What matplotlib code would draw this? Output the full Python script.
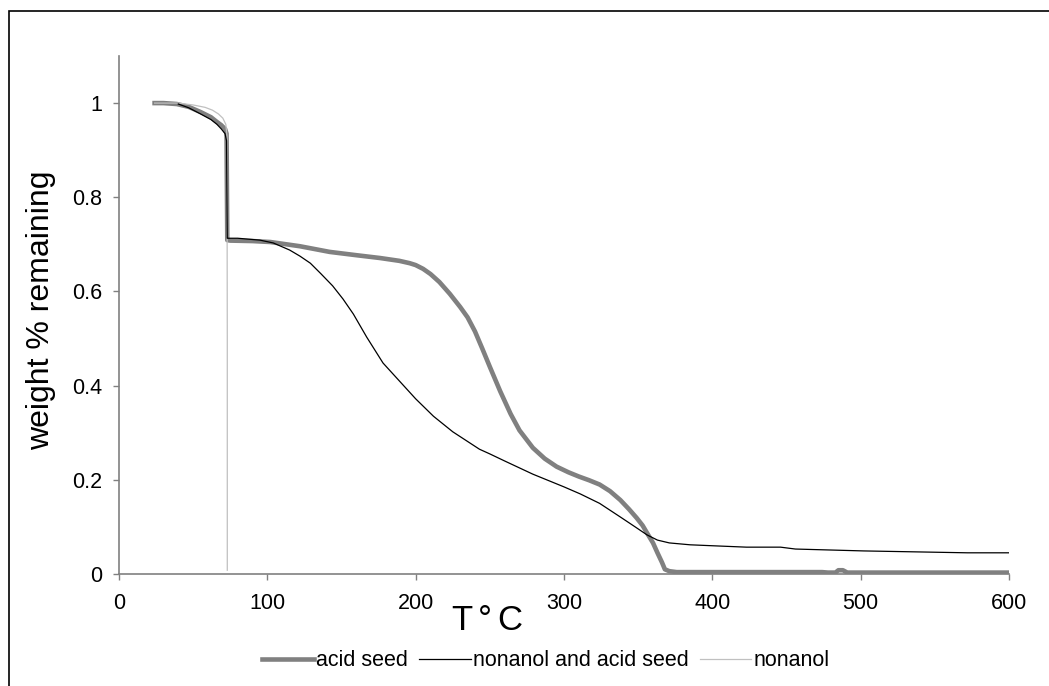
import matplotlib.pyplot as plt
import matplotlib.patches as patches

plt.rcParams['font.family'] = ['Liberation Sans', 'DejaVu Sans']

# acid seed (thick grey)
acid_T = [24, 30, 39, 47, 55, 62, 66, 69, 71.5, 72.5, 72.8, 73, 75, 90, 102, 122, 142, 160, 176,
          189, 196, 200, 205, 210, 216, 223, 230, 235, 240, 245, 250, 257, 264, 270, 279, 287,
          295, 303, 310, 317, 324, 331, 338, 344, 349, 353, 356, 360, 363, 366, 368, 371, 376,
          420, 474, 478, 483, 485, 488, 491, 530, 600]
acid_w = [1.0, 1.0, 0.998, 0.992, 0.981, 0.970, 0.960, 0.953, 0.945, 0.935, 0.80, 0.709, 0.708,
          0.707, 0.705, 0.696, 0.684, 0.677, 0.671, 0.665, 0.660, 0.656, 0.648, 0.637, 0.620,
          0.595, 0.567, 0.545, 0.515, 0.478, 0.440, 0.388, 0.340, 0.305, 0.268, 0.245, 0.228,
          0.216, 0.207, 0.199, 0.190, 0.176, 0.157, 0.137, 0.119, 0.103, 0.087, 0.066, 0.045,
          0.025, 0.010, 0.006, 0.004, 0.004, 0.004, 0.003, 0.003, 0.008, 0.008, 0.003, 0.003,
          0.003]

# nonanol and acid seed (thin black)
mix_T = [40, 47, 55, 62, 66, 69, 71.5, 72.5, 72.7, 73, 80, 95, 104, 115, 122, 129, 136, 144, 151,
         158, 167, 178, 189, 200, 212, 225, 243, 250, 260, 279, 300, 311, 324, 338, 348, 356,
         363, 371, 385, 400, 423, 446, 456, 502, 572, 600]
mix_w = [0.998, 0.990, 0.977, 0.965, 0.955, 0.945, 0.935, 0.920, 0.830, 0.713, 0.713, 0.709,
         0.703, 0.688, 0.675, 0.660, 0.638, 0.612, 0.584, 0.552, 0.503, 0.448, 0.410, 0.372,
         0.335, 0.302, 0.265, 0.255, 0.240, 0.212, 0.185, 0.170, 0.150, 0.121, 0.100, 0.083,
         0.072, 0.066, 0.062, 0.060, 0.057, 0.057, 0.053, 0.049, 0.045, 0.045]

# nonanol (thin light grey)
non_T = [24, 40, 50, 58, 63, 67, 70, 72, 72.8, 73, 73]
non_w = [1.0, 1.0, 0.996, 0.991, 0.985, 0.977, 0.968, 0.955, 0.930, 0.500, 0.008]

x_ticks = [0, 100, 200, 300, 400, 500, 600]
y_ticks = [0, 0.2, 0.4, 0.6, 0.8, 1]
y_ticklabels = ['0', '0.2', '0.4', '0.6', '0.8', '1']

fig = plt.figure(figsize=(10.49, 6.86), dpi=100)
ax = fig.add_axes([119/1049, 1 - 574/686, 890/1049, 518/686])

ax.plot(acid_T, acid_w, color='#808080', lw=3.3, label='acid seed', zorder=2)
ax.plot(mix_T, mix_w, color='black', lw=0.9, label='nonanol and acid seed', zorder=3)
ax.plot(non_T, non_w, color='#c0c0c0', lw=0.9, label='nonanol', zorder=2.5)

ax.set_xlim(0, 600)
ax.set_ylim(0, 1.1)
ax.set_xticks(x_ticks)
ax.set_yticks(y_ticks)
ax.set_yticklabels(y_ticklabels)

for s in ['top', 'right']:
    ax.spines[s].set_visible(False)
for s in ['left', 'bottom']:
    ax.spines[s].set_color('#808080')
    ax.spines[s].set_linewidth(1.2)
ax.tick_params(axis='both', colors='#808080', labelcolor='black', labelsize=15.5,
               length=4, width=1.0, direction='out')
ax.tick_params(axis='x', pad=10)
ax.tick_params(axis='y', pad=8)

fig.text(41/1049, 1 - 310/686, 'weight % remaining', rotation=90, ha='center',
         va='center', fontsize=23)
fig.text(487/1049, 1 - 621/686, 'T$\\,$°$\\,$C', ha='center', va='center', fontsize=25)

fig.legend(loc='center', bbox_to_anchor=(546/1049, 1 - 661/686), ncol=3, frameon=False,
           fontsize=15.5, handlelength=2.4, handletextpad=0.12, columnspacing=0.5)

# outer chart-area border (runs off the right and bottom edges)
fig.patches.append(patches.Rectangle((8.5/1049, -0.1), 1.2, 0.1 + 1 - 11.5/686,
                                     transform=fig.transFigure, fill=False,
                                     edgecolor='black', lw=1.2))

fig.savefig('out.png', dpi=100)
